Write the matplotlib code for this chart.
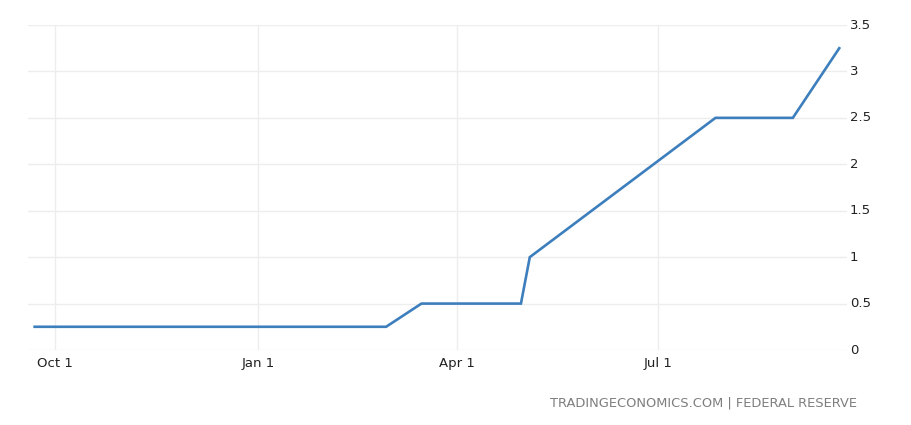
import matplotlib
matplotlib.use("Agg")
import matplotlib.pyplot as plt
import matplotlib.dates as mdates
import numpy as np
import datetime as dt

dates = ["2021-09-22", "2021-11-03", "2021-12-15", "2022-01-26", "2022-02-28",
         "2022-03-16", "2022-04-30", "2022-05-04", "2022-06-15", "2022-07-27",
         "2022-08-31", "2022-09-21"]
rates = [0.25, 0.25, 0.25, 0.25, 0.25, 0.5, 0.5, 1.0, 1.75, 2.5, 2.5, 3.25]

xtick_dates = ["2021-10-01", "2022-01-01", "2022-04-01", "2022-07-01"]
xtick_labels = ["Oct 1", "Jan 1", "Apr 1", "Jul 1"]
yticks = [0, 0.5, 1, 1.5, 2, 2.5, 3, 3.5]
ytick_labels = ["0", "0.5", "1", "1.5", "2", "2.5", "3", "3.5"]
source = "TRADINGECONOMICS.COM | FEDERAL RESERVE"

x = [dt.datetime.strptime(d, "%Y-%m-%d") for d in dates]
xt = [dt.datetime.strptime(d, "%Y-%m-%d") for d in xtick_dates]

fig = plt.figure(figsize=(9.12, 4.25), dpi=100)
ax = fig.add_axes([28/912, 1-350/425, (847-28)/912, (350-25)/425])

ax.plot(x, rates, color="#3d7ebd", lw=1.9, solid_joinstyle="miter", zorder=3)

ax.set_xlim(dt.datetime(2021, 9, 19), dt.datetime(2022, 9, 24, 12))
ax.set_ylim(0, 3.5)
ax.set_xticks(xt)
ax.set_xticklabels(xtick_labels)
ax.set_yticks(yticks)
ax.set_yticklabels(ytick_labels)
ax.yaxis.tick_right()
ax.grid(True, color="#ededed", lw=1.0, zorder=0)
for s in ax.spines.values():
    s.set_visible(False)
ax.tick_params(axis="both", length=0, labelsize=9.5, colors="#222222")
ax.tick_params(axis="y", pad=2)
ax.tick_params(axis="x", pad=5)
for lbl in ax.get_yticklabels():
    lbl.set_verticalalignment("center")

fig.text(857/912, 1-403/425, source, ha="right", va="center",
         fontsize=9.4, color="#7f7f7f")

fig.savefig("out.png", dpi=100)
